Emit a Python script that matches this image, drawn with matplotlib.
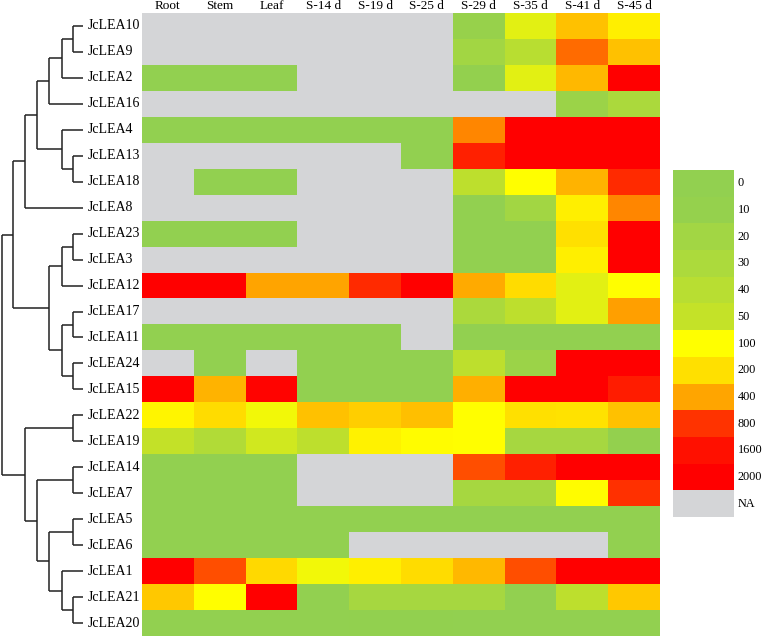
import matplotlib.pyplot as plt
import numpy as np
from matplotlib.colors import LinearSegmentedColormap

plt.rcParams['font.family'] = ['Liberation Serif', 'DejaVu Serif']

# columns / rows
samples = ["Root", "Stem", "Leaf", "S-14 d", "S-19 d", "S-25 d",
           "S-29 d", "S-35 d", "S-41 d", "S-45 d"]
genes = ["JcLEA10", "JcLEA9", "JcLEA2", "JcLEA16", "JcLEA4", "JcLEA13",
         "JcLEA18", "JcLEA8", "JcLEA23", "JcLEA3", "JcLEA12", "JcLEA17",
         "JcLEA11", "JcLEA24", "JcLEA15", "JcLEA22", "JcLEA19", "JcLEA14",
         "JcLEA7", "JcLEA5", "JcLEA6", "JcLEA1", "JcLEA21", "JcLEA20"]

na = np.nan
# expression values (estimated from colours), nan = NA
expr = [
    [na, na, na, na, na, na, 12, 75, 300, 150],
    [na, na, na, na, na, na, 20, 40, 600, 300],
    [0, 0, 0, na, na, na, 5, 75, 330, 2000],
    [na, na, na, na, na, na, na, na, 15, 30],
    [0, 0, 0, 0, 0, 0, 500, 2000, 2000, 2000],
    [na, na, na, na, na, 0, 1200, 2000, 2000, 2000],
    [na, 0, 0, na, na, na, 45, 100, 350, 1000],
    [na, na, na, na, na, na, 0, 20, 150, 500],
    [0, 0, 0, na, na, na, 0, 0, 200, 2000],
    [na, na, na, na, na, na, 0, 0, 150, 2000],
    [2000, 2000, 400, 400, 1000, 2000, 380, 210, 75, 100],
    [na, na, na, na, na, na, 30, 45, 75, 420],
    [0, 0, 0, 0, 0, na, 0, 0, 0, 0],
    [na, 0, na, 0, 0, 0, 45, 15, 2000, 2000],
    [2000, 350, 1900, 0, 0, 0, 360, 2000, 2000, 1300],
    [130, 210, 90, 300, 260, 310, 100, 200, 190, 300],
    [50, 35, 60, 45, 140, 110, 100, 25, 25, 5],
    [0, 0, 0, na, na, na, 700, 1200, 2000, 2000],
    [0, 0, 0, na, na, na, 25, 25, 110, 850],
    [0, 0, 0, 0, 0, 0, 0, 0, 0, 0],
    [0, 0, 0, 0, na, na, na, na, na, 0],
    [2000, 700, 220, 90, 150, 210, 330, 700, 2000, 2000],
    [280, 100, 2000, 0, 25, 25, 25, 0, 45, 280],
    [0, 0, 0, 0, 3, 3, 0, 0, 0, 0],
]

levels = [0, 10, 20, 30, 40, 50, 100, 200, 400, 800, 1600, 2000]
level_labels = ["0", "10", "20", "30", "40", "50", "100", "200", "400",
                "800", "1600", "2000", "NA"]
level_colors = ["#92d050", "#95d14d", "#a2d644", "#acda3c", "#b8de32",
                "#c4e228", "#ffff00", "#ffe000", "#ffa500", "#ff3300",
                "#ff1000", "#ff0000"]
na_color = "#d4d5d7"

# dendrogram: (left, right, merge distance)
tree = (
    (
        ((((("JcLEA10", "JcLEA9", 10), "JcLEA2", 21), "JcLEA16", 34),
          ("JcLEA4", ("JcLEA13", "JcLEA18", 10), 21), 46),
         "JcLEA8", 58),
        ((("JcLEA23", "JcLEA3", 10), "JcLEA12", 21),
         (("JcLEA17", "JcLEA11", 10), ("JcLEA24", "JcLEA15", 10), 21), 34),
        70),
    (("JcLEA22", "JcLEA19", 10),
     (("JcLEA14", "JcLEA7", 10),
      (("JcLEA5", "JcLEA6", 10),
       ("JcLEA1", ("JcLEA21", "JcLEA20", 10), 21), 34), 46), 58),
    81)

fig = plt.figure(figsize=(7.62, 6.36), dpi=100)
W, H = 762, 636
top_px, bot_px = 13, 636
hm_left, hm_right = 142, 660

ax = fig.add_axes([hm_left / W, 1 - bot_px / H, (hm_right - hm_left) / W,
                   (bot_px - top_px) / H])
data = np.array(expr, dtype=float)
idx = np.interp(data, levels, np.arange(len(levels)))
idx = np.ma.masked_invalid(idx)
cmap = LinearSegmentedColormap.from_list("lea", level_colors, N=512)
cmap.set_bad(na_color)
ax.imshow(idx, cmap=cmap, vmin=0, vmax=len(levels) - 1, aspect='auto',
          interpolation='nearest')
ax.set_xlim(-0.5, len(samples) - 0.5)
ax.set_ylim(len(genes) - 0.5, -0.5)
for s in ax.spines.values():
    s.set_visible(False)
ax.set_xticks([])
ax.set_yticks([])
for j, s in enumerate(samples):
    ax.text(j, -0.53, s, ha='center', va='bottom', fontsize=9.5)
for i, g in enumerate(genes):
    ax.text((88 - hm_left) / (hm_right - hm_left), i, g, ha='left',
            va='center', fontsize=10,
            transform=ax.get_yaxis_transform())

# dendrogram
dax = fig.add_axes([0, 1 - bot_px / H, 83 / W, (bot_px - top_px) / H])
dax.set_xlim(83, 0)
dax.set_ylim(len(genes) - 0.5, -0.5)
dax.axis('off')
pos = {g: i for i, g in enumerate(genes)}


def draw(node):
    if isinstance(node, str):
        return pos[node], 0
    left, right, h = node
    y1, h1 = draw(left)
    y2, h2 = draw(right)
    kw = dict(color='#222222', lw=1.1, solid_capstyle='butt')
    dax.plot([h1, h], [y1, y1], **kw)
    dax.plot([h2, h], [y2, y2], **kw)
    dax.plot([h, h], [y1, y2], **kw)
    return (y1 + y2) / 2, h


draw(tree)

# legend
box_h = 26.7
lg_top = 170
n = len(level_labels)
lax = fig.add_axes([673 / W, 1 - (lg_top + n * box_h) / H, 61 / W,
                    n * box_h / H])
lax.set_xlim(0, 1)
lax.set_ylim(n, 0)
lax.axis('off')
for k, lab in enumerate(level_labels):
    c = level_colors[k] if k < len(level_colors) else na_color
    lax.add_patch(plt.Rectangle((0, k), 1, 1, facecolor=c, edgecolor='none'))
    lax.text(1.06, k + 0.5, lab, ha='left', va='center', fontsize=8.8,
             transform=lax.transData, clip_on=False)

fig.savefig("out.png", dpi=100)
